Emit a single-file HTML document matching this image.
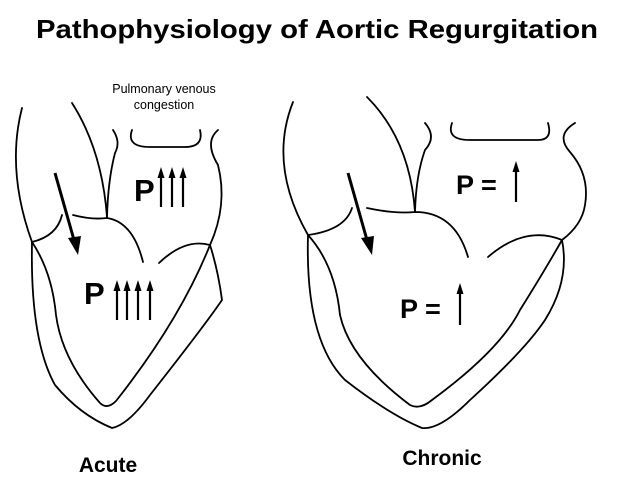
<!DOCTYPE html>
<html><head><meta charset="utf-8"><style>
html,body{margin:0;padding:0;background:#fff;}
svg{display:block;}
text{font-family:"Liberation Sans",Arial,sans-serif;fill:#000;}
</style></head><body>
<svg width="618" height="482" viewBox="0 0 618 482" xmlns="http://www.w3.org/2000/svg">
<text x="36" y="38" font-size="26" font-weight="bold" textLength="562" lengthAdjust="spacingAndGlyphs">Pathophysiology of Aortic Regurgitation</text>

<g fill="none" stroke="#000" stroke-width="1.8" stroke-linecap="round">
<!-- LEFT HEART (Acute) -->
<path d="M22,108 Q6,170 32,242"/>
<path d="M72,103 Q102,150 107,217"/>
<path d="M113,130 Q121,142 115,153 Q108,180 107,217"/>
<path d="M132,130 Q126,147 150,147 L185,147 Q204,147 200,130"/>
<path d="M218,130 Q204,142 218,165 Q228,205 210,245"/>
<path d="M73,215 Q92,220 107,218 Q133,222 143,262"/>
<path d="M62,215 Q57,236 32,242"/>
<path d="M159,263 Q185,238 210,245"/>
<path d="M32,242 Q52,272 56,315 Q62,360 100,403 Q107,410 116,401 Q180,320 210,245"/>
<path d="M32,242 Q30,340 55,385 Q80,415 112,428 Q128,425 150,395 Q205,325 222,300 Q218,270 210,245"/>
<!-- RIGHT HEART (Chronic) -->
<path d="M293,102 Q268,165 308,235"/>
<path d="M367,97 Q410,140 415,212"/>
<path d="M425,123 Q437,137 425,150 Q416,175 415,212"/>
<path d="M452,123 Q446,140 470,140 L538,140 Q553,140 548,123"/>
<path d="M575,123 Q555,135 570,152 Q590,175 585,205 Q582,225 562,240"/>
<path d="M367,208 Q395,214 415,212 Q455,212 468,257"/>
<path d="M352,208 Q345,230 308,235"/>
<path d="M488,257 Q525,225 562,240"/>
<path d="M308,235 Q335,265 340,315 Q350,360 410,405 Q420,410 432,400 Q500,350 520,310 Q545,270 562,240"/>
<path d="M308,235 Q305,340 345,380 Q390,415 422,428 Q440,430 470,400 Q525,350 545,320 Q570,280 562,240"/>
</g>
<!-- regurgitant jet arrows -->
<g stroke="#000" stroke-width="3">
<line x1="55" y1="173" x2="74" y2="240"/>
<line x1="348" y1="173" x2="367" y2="240"/>
</g>
<polygon points="68,238 81,236 78,255" fill="#000"/>
<polygon points="361,238 374,236 372,255" fill="#000"/>

<!-- small arrows -->
<g stroke="#000" stroke-width="2.2">
<line x1="161" y1="175" x2="161" y2="207"/>
<line x1="172" y1="175" x2="172" y2="207"/>
<line x1="183" y1="175" x2="183" y2="207"/>
<line x1="117" y1="288" x2="117" y2="320"/>
<line x1="127" y1="288" x2="127" y2="320"/>
<line x1="138" y1="288" x2="138" y2="320"/>
<line x1="150" y1="288" x2="150" y2="320"/>
<line x1="516" y1="170" x2="516" y2="202"/>
<line x1="460" y1="292" x2="460" y2="325"/>
</g>
<g fill="#000">
<polygon points="157.5,178 161,167 164.5,178"/>
<polygon points="168.5,178 172,167 175.5,178"/>
<polygon points="179.5,178 183,167 186.5,178"/>
<polygon points="113.5,291 117,280 120.5,291"/>
<polygon points="123.5,291 127,280 130.5,291"/>
<polygon points="134.5,291 138,280 141.5,291"/>
<polygon points="146.5,291 150,280 153.5,291"/>
<polygon points="512.5,172 516,161 519.5,172"/>
<polygon points="456.5,294 460,283 463.5,294"/>
</g>

<text x="134" y="201" font-size="31" font-weight="bold">P</text>
<text x="84" y="304" font-size="31" font-weight="bold">P</text>
<text x="456" y="194" font-size="27" font-weight="bold">P =</text>
<text x="400" y="318" font-size="27" font-weight="bold">P =</text>

<text x="164" y="93" font-size="12.5" text-anchor="middle">Pulmonary venous</text>
<text x="164" y="109" font-size="12.5" text-anchor="middle">congestion</text>

<text x="108" y="472" font-size="21" font-weight="bold" text-anchor="middle">Acute</text>
<text x="442" y="465" font-size="21" font-weight="bold" text-anchor="middle">Chronic</text>
</svg>
</body></html>
